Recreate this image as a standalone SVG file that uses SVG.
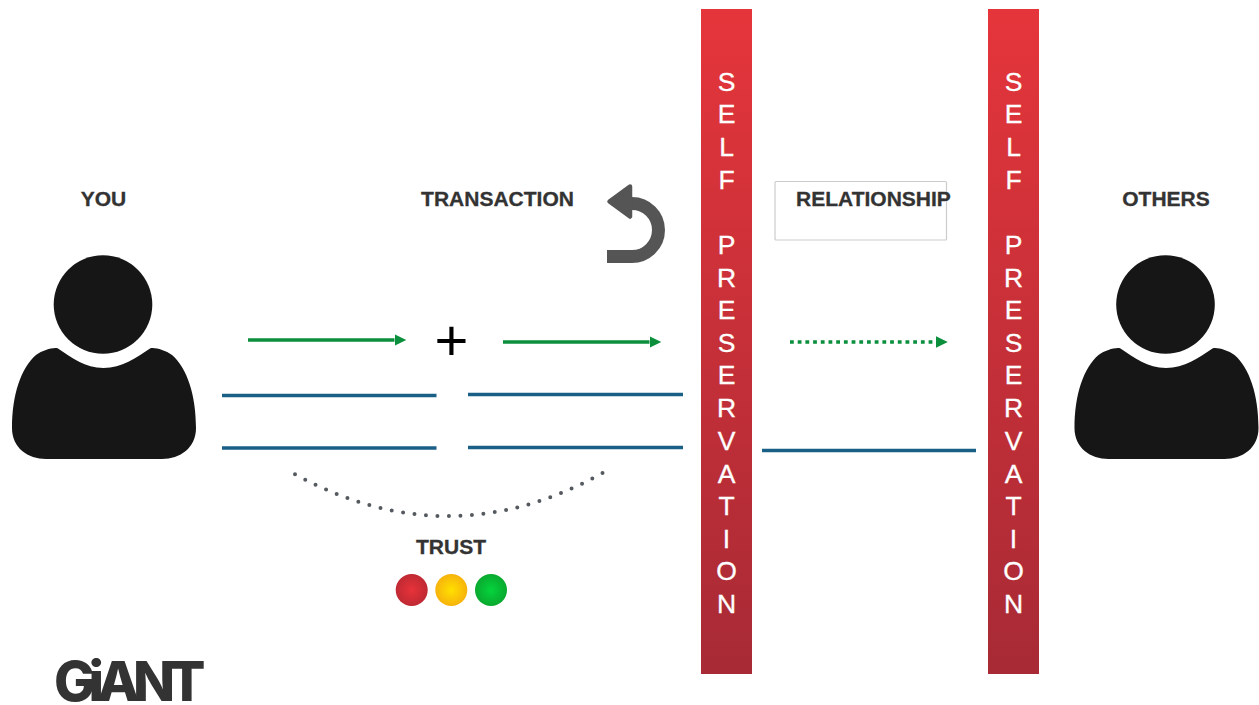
<svg xmlns="http://www.w3.org/2000/svg" width="1259" height="705" viewBox="0 0 1259 705">
<style>
.lbl{font-family:"Liberation Sans",Arial,sans-serif;font-weight:700;font-size:21px;fill:#333;stroke:#333;stroke-width:.3px;text-anchor:middle}
.bar{font-family:"Liberation Sans",Arial,sans-serif;font-size:26.5px;fill:#fff;stroke:#fff;stroke-width:.3px;text-anchor:middle}
.blue{stroke:#1a5f85;stroke-width:3.6;fill:none}
.green{stroke:#0b8f3c;stroke-width:3.6;fill:none}
.person{fill:#161616}
</style>
<defs>
<linearGradient id="barG" x1="0" y1="0" x2="0" y2="1"><stop offset="0" stop-color="#e5353b"/><stop offset="1" stop-color="#a72a35"/></linearGradient>
<radialGradient id="r"><stop offset="0" stop-color="#e8323a"/><stop offset="1" stop-color="#bf2a33"/></radialGradient>
<radialGradient id="y"><stop offset="0" stop-color="#ffe000"/><stop offset="1" stop-color="#f7b30c"/></radialGradient>
<radialGradient id="g"><stop offset="0" stop-color="#04d43c"/><stop offset="1" stop-color="#0aa92f"/></radialGradient>
<marker id="ah" markerUnits="userSpaceOnUse" markerWidth="12" markerHeight="12" refX="0" refY="6" orient="auto"><path d="M0 .2L11.800 6L0 11.800Z" fill="#0b8f3c"/></marker>
<g id="personShape">
<circle class="person" cx="103" cy="304.500" r="49.300"/>
<path class="person" d="M58 348.500C72 358 85 368 103.500 368C122 368 136 358 150 348.500C154 347 165 350 172 355C187 368 196 395 196 428C196 448 180 459 162 459H46C28 459 12 448 12 428C12 395 21 368 36 355C43 350 54 347 58 348.500Z"/>
</g>
</defs>
<rect width="1259" height="705" fill="#fff"/>

<g id="you"><use href="#personShape"/><text class="lbl" x="103.500" y="206">YOU</text></g>
<g id="others"><use href="#personShape" x="1062.500"/><text class="lbl" x="1166" y="206">OTHERS</text></g>

<g id="transaction"><text class="lbl" x="497.500" y="206">TRANSACTION</text></g>
<g id="undo-icon">
<path d="M607 256.500H632A26.500 26.500 0 0 0 632 203.500H622" fill="none" stroke="#555" stroke-width="13"/>
<path d="M630 186.500L609.500 201.500L630 216.500Z" fill="#555" stroke="#555" stroke-width="4.500" stroke-linejoin="round"/>
</g>
<g id="plus"><text x="451.500" y="360" font-family="'Liberation Sans',Arial,sans-serif" font-size="58" text-anchor="middle" fill="#000">+</text></g>

<g id="relationship">
<rect x="775" y="181.500" width="171.500" height="58.500" rx="1" fill="#fff" stroke="#ccc" stroke-width="1.200"/>
<text class="lbl" x="873.500" y="206">RELATIONSHIP</text>
</g>

<g id="bar-left">
<rect x="701" y="9" width="51" height="665" fill="url(#barG)"/>
<text class="bar"><tspan x="726.500" y="91">S</tspan><tspan x="726.500" y="123">E</tspan><tspan x="726.500" y="156">L</tspan><tspan x="726.500" y="189">F</tspan><tspan x="726.500" y="254">P</tspan><tspan x="726.500" y="287">R</tspan><tspan x="726.500" y="319">E</tspan><tspan x="726.500" y="352">S</tspan><tspan x="726.500" y="384">E</tspan><tspan x="726.500" y="417">R</tspan><tspan x="726.500" y="450">V</tspan><tspan x="726.500" y="483">A</tspan><tspan x="726.500" y="515">T</tspan><tspan x="726.500" y="548">I</tspan><tspan x="726.500" y="580">O</tspan><tspan x="726.500" y="613">N</tspan></text>
</g>
<g id="bar-right">
<rect x="988" y="9" width="51" height="665" fill="url(#barG)"/>
<text class="bar"><tspan x="1013.500" y="91">S</tspan><tspan x="1013.500" y="123">E</tspan><tspan x="1013.500" y="156">L</tspan><tspan x="1013.500" y="189">F</tspan><tspan x="1013.500" y="254">P</tspan><tspan x="1013.500" y="287">R</tspan><tspan x="1013.500" y="319">E</tspan><tspan x="1013.500" y="352">S</tspan><tspan x="1013.500" y="384">E</tspan><tspan x="1013.500" y="417">R</tspan><tspan x="1013.500" y="450">V</tspan><tspan x="1013.500" y="483">A</tspan><tspan x="1013.500" y="515">T</tspan><tspan x="1013.500" y="548">I</tspan><tspan x="1013.500" y="580">O</tspan><tspan x="1013.500" y="613">N</tspan></text>
</g>

<g id="connectors">
<path class="green" d="M248 340H394.500" marker-end="url(#ah)"/>
<path class="green" d="M503 342H649.500" marker-end="url(#ah)"/>
<path class="green" d="M790 342H936" stroke-dasharray="3.800 3.900" marker-end="url(#ah)"/>
<path class="blue" d="M222 395.500H436.500M222 448H436.500M468 394.500H683M468 447.500H683M762 450.500H976"/>
<path d="M295 474.300Q449 558.500 602.500 473" pathLength="28" fill="none" stroke="#555a60" stroke-width="4" stroke-linecap="round" stroke-dasharray="0 1"/>
</g>

<g id="trust">
<text class="lbl" x="451" y="554">TRUST</text>
<circle cx="411.700" cy="590" r="16" fill="url(#r)"/>
<circle cx="451.300" cy="590" r="16" fill="url(#y)"/>
<circle cx="491" cy="590" r="16" fill="url(#g)"/>
</g>

<g id="logo"><text x="54" y="701" font-family="Inter,'Liberation Sans',Arial,sans-serif" font-weight="800" font-size="55" letter-spacing="-6.800" fill="#333">GiANT</text></g>
</svg>
